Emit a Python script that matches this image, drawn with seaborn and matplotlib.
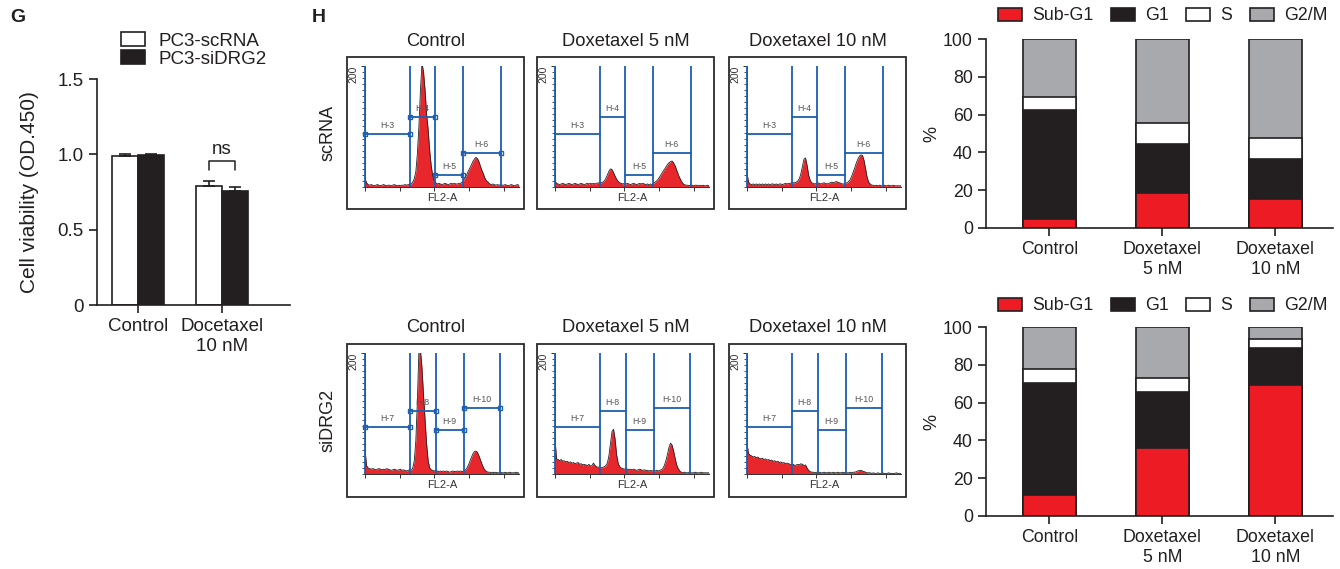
import numpy as np
import pandas as pd
import matplotlib
matplotlib.use("Agg")
import matplotlib.pyplot as plt
from matplotlib.patches import Rectangle, Patch
from matplotlib.ticker import MultipleLocator
import seaborn as sns

# ---------------- data ----------------
# Panel G: cell viability
g_groups = ["Control", "Docetaxel\n10 nM"]
g_lines = ["PC3-scRNA", "PC3-siDRG2"]
g_scrna = [0.99, 0.79]
g_sidrg2 = [0.995, 0.755]
g_err_scrna = [0.01, 0.035]
g_err_sidrg2 = [0.01, 0.03]

# Panel H: flow cytometry histograms (FL2-A channel grid 0..1000)
h_conditions = ["Control", "Doxetaxel 5 nM", "Doxetaxel 10 nM"]
h_rows = ["scRNA", "siDRG2"]
fl2_channel = np.arange(0, 1001, 10)

hist_scrna_ctrl = [
    14, 7, 4, 3, 4, 3, 2, 3, 4, 3,
    2, 3, 4, 3, 2, 3, 3, 2, 3, 4,
    3, 2, 3, 2, 3, 3, 4, 3, 4, 4,
    5, 8, 14, 25, 55, 100, 160, 205, 190, 160,
    120, 95, 60, 35, 18, 10, 7, 5, 6, 5,
    4, 5, 6, 5, 4, 5, 6, 5, 6, 5,
    5, 6, 6, 8, 11, 15, 20, 26, 31, 36,
    42, 46, 49, 47, 42, 34, 27, 21, 14, 10,
    8, 5, 4, 5, 4, 3, 4, 3, 4, 3,
    3, 4, 3, 2, 3, 4, 3, 2, 3, 4, 3]
hist_scrna_5nm = [
    10, 6, 5, 4, 5, 6, 5, 4, 5, 6,
    5, 4, 5, 6, 5, 4, 5, 6, 5, 4,
    5, 6, 5, 6, 5, 6, 5, 6, 7, 6,
    7, 8, 10, 14, 20, 26, 30, 29, 24, 18,
    13, 9, 7, 6, 5, 6, 5, 6, 5, 4,
    5, 6, 5, 4, 5, 6, 5, 6, 5, 4,
    5, 4, 5, 4, 6, 8, 10, 13, 17, 21,
    25, 29, 33, 37, 40, 42, 43, 40, 35, 28,
    21, 15, 10, 6, 4, 3, 3, 2, 3, 3,
    2, 3, 3, 2, 3, 2, 3, 2, 2, 3, 2]
hist_scrna_10nm = [
    23, 8, 5, 4, 5, 4, 5, 4, 5, 4,
    5, 4, 5, 4, 5, 4, 5, 5, 4, 5,
    4, 5, 5, 4, 5, 6, 5, 6, 6, 7,
    7, 7, 8, 10, 14, 22, 34, 46, 48, 36,
    20, 11, 7, 6, 5, 6, 7, 6, 5, 6,
    7, 6, 5, 6, 7, 8, 7, 8, 9, 8,
    7, 6, 5, 5, 6, 7, 9, 12, 18, 25,
    32, 40, 46, 51, 53, 52, 44, 30, 16, 8,
    5, 3, 3, 2, 3, 2, 3, 2, 2, 3,
    2, 2, 3, 2, 2, 3, 2, 2, 2, 2, 2]
hist_sidrg2_ctrl = [
    41, 14, 10, 9, 8, 9, 8, 7, 8, 9,
    8, 7, 8, 7, 9, 8, 7, 6, 7, 8,
    7, 6, 7, 8, 6, 7, 6, 5, 6, 7,
    6, 10, 22, 55, 120, 205, 205, 175, 130, 90,
    50, 22, 10, 7, 6, 5, 6, 5, 4, 5,
    4, 5, 4, 5, 4, 3, 4, 5, 4, 4,
    5, 4, 5, 4, 5, 6, 9, 14, 20, 27,
    33, 37, 38, 36, 30, 23, 16, 10, 6, 4,
    3, 3, 2, 3, 2, 3, 2, 2, 3, 2,
    2, 3, 2, 2, 3, 2, 2, 2, 3, 2, 2]
hist_sidrg2_5nm = [
    58, 25, 24, 22, 24, 21, 22, 20, 21, 19,
    20, 18, 19, 17, 18, 19, 16, 17, 15, 16,
    15, 14, 16, 13, 14, 18, 14, 12, 11, 12,
    10, 11, 12, 14, 18, 30, 50, 70, 74, 58,
    32, 18, 12, 10, 9, 8, 9, 8, 7, 8,
    7, 8, 7, 6, 7, 8, 7, 6, 7, 6,
    6, 5, 6, 5, 6, 5, 6, 5, 6, 7,
    9, 14, 22, 32, 44, 51, 48, 38, 26, 15,
    9, 5, 3, 2, 3, 2, 2, 3, 2, 2,
    2, 3, 2, 2, 2, 3, 2, 2, 2, 2, 2]
hist_sidrg2_10nm = [
    50, 34, 31, 30, 28, 29, 27, 28, 26, 25,
    26, 24, 25, 23, 24, 22, 23, 21, 22, 20,
    21, 19, 20, 18, 19, 17, 18, 17, 16, 15,
    16, 14, 15, 16, 15, 17, 16, 14, 15, 10,
    6, 4, 3, 3, 2, 3, 2, 3, 2, 2,
    3, 2, 2, 3, 2, 2, 3, 2, 2, 3,
    2, 2, 3, 2, 3, 2, 2, 3, 2, 3,
    3, 4, 5, 6, 6, 5, 4, 3, 2, 2,
    2, 1, 2, 1, 1, 2, 1, 1, 2, 1,
    1, 1, 2, 1, 1, 1, 1, 2, 1, 1, 1]

gate_bounds_scrna = [0, 293, 455, 636, 880]
gate_heights_scrna = [88, 116, 20, 56]
gate_names_scrna = ["H-3", "H-4", "H-5", "H-6"]
gate_bounds_sidrg2 = [0, 290, 458, 641, 876]
gate_heights_sidrg2 = [78, 104, 73, 109]
gate_names_sidrg2 = ["H-7", "H-8", "H-9", "H-10"]

# Panel H right: cell cycle distribution (%)
phases = ["Sub-G1", "G1", "S", "G2/M"]
bar_conditions = ["Control", "Doxetaxel\n5 nM", "Doxetaxel\n10 nM"]
scrna_subg1 = [5.0, 18.7, 15.2]
scrna_g1 = [57.5, 25.6, 21.5]
scrna_s = [6.8, 11.3, 10.7]
scrna_g2m = [30.7, 44.4, 52.6]
sidrg2_subg1 = [11.1, 35.9, 69.4]
sidrg2_g1 = [59.3, 29.6, 19.5]
sidrg2_s = [7.2, 7.4, 4.8]
sidrg2_g2m = [22.4, 27.1, 6.3]

# ---------------- style ----------------
sns.set_style("ticks")
plt.rcParams["font.family"] = ["Liberation Sans", "DejaVu Sans"]
INK = "#231f20"
RED = "#ed1c24"
GRAY = "#a7a9ac"
BLUE = "#1d5fb0"
HRED = "#e8272d"
phase_colors = [RED, INK, "white", GRAY]
plt.rcParams["text.color"] = INK

W, H = 1340, 569
fig = plt.figure(figsize=(W / 100, H / 100), dpi=100)


def ax_px(l, t, r, b):
    return fig.add_axes([l / W, 1 - b / H, (r - l) / W, (b - t) / H])


def style_axes(ax, size, lw=1.2, length=6):
    for s in ["top", "right"]:
        ax.spines[s].set_visible(False)
    for s in ["left", "bottom"]:
        ax.spines[s].set_linewidth(lw)
        ax.spines[s].set_color(INK)
    ax.tick_params(axis="both", direction="out", length=length, width=lw,
                   labelsize=size, colors=INK, pad=3.5)


# ---------------- Panel G ----------------
GF = 13.5
fig.text(10 / W, 1 - 18 / H, "G", fontsize=14, fontweight="bold", va="center", ha="left")
axg = ax_px(97, 79, 290, 305)
df_g = pd.DataFrame({
    "group": g_groups * 2,
    "line": [g_lines[0]] * len(g_groups) + [g_lines[1]] * len(g_groups),
    "value": g_scrna + g_sidrg2,
})
sns.barplot(data=df_g, x="group", y="value", hue="line", order=g_groups,
            hue_order=g_lines, palette=["white", INK], saturation=1,
            edgecolor=INK, linewidth=1.2, width=0.62, errorbar=None,
            legend=False, ax=axg)
bar_conts = list(axg.containers[:2])
for cont, errs in zip(bar_conts, [g_err_scrna, g_err_sidrg2]):
    xs = [p.get_x() + p.get_width() / 2 for p in cont]
    ys = [p.get_height() for p in cont]
    axg.errorbar(xs, ys, yerr=[np.zeros(len(errs)), errs], fmt="none",
                 ecolor=INK, elinewidth=1.2, capsize=4.5, capthick=1.2, zorder=1)
# ns bracket
p0 = bar_conts[0][1]
p1 = bar_conts[1][1]
x0 = p0.get_x() + p0.get_width() / 2
x1 = p1.get_x() + p1.get_width() / 2
axg.plot([x0, x0, x1, x1], [0.895, 0.955, 0.955, 0.895], color=INK, lw=1.1)
axg.text((x0 + x1) / 2, 1.035, "ns", ha="center", va="center", fontsize=GF)
axg.set_xlim(-0.49, 1.81)
axg.set_ylim(0, 1.5)
axg.set_yticks([0, 0.5, 1.0, 1.5])
axg.set_yticklabels(["0", "0.5", "1.0", "1.5"])
axg.set_xlabel("")
axg.set_ylabel("")
style_axes(axg, GF, length=6)
fig.text(30 / W, 1 - 192 / H, "Cell viability (OD.450)", rotation=90,
         ha="center", va="center", fontsize=15)
fig.legend(handles=[Patch(fc="white", ec=INK, lw=1.2), Patch(fc=INK, ec=INK, lw=1.2)],
           labels=g_lines, loc="center left", bbox_to_anchor=(121 / W, 1 - 50 / H),
           frameon=False, fontsize=GF, handlelength=1.28, handleheight=0.7,
           handletextpad=0.7, labelspacing=0.05, borderpad=0, borderaxespad=0)

# ---------------- Panel H histograms ----------------
fig.text(312 / W, 1 - 18 / H, "H", fontsize=14, fontweight="bold", va="center", ha="left")
box_cols = [(347, 524), (537, 714), (729, 906)]
box_rows = [(57, 209), (344, 497)]
hist_sets = [[hist_scrna_ctrl, hist_scrna_5nm, hist_scrna_10nm],
             [hist_sidrg2_ctrl, hist_sidrg2_5nm, hist_sidrg2_10nm]]
gate_sets = [(gate_bounds_scrna, gate_heights_scrna, gate_names_scrna),
             (gate_bounds_sidrg2, gate_heights_sidrg2, gate_names_sidrg2)]

for ri, (bt, bb) in enumerate(box_rows):
    fig.text(328 / W, 1 - (bt + bb) / 2 / H, h_rows[ri], rotation=90,
             ha="center", va="center", fontsize=13)
    bounds, heights, names = gate_sets[ri]
    for ci, (bl, br) in enumerate(box_cols):
        fig.text((bl + br) / 2 / W, 1 - (bt - 16) / H, h_conditions[ci],
                 ha="center", va="center", fontsize=13.2)
        fig.add_artist(Rectangle((bl / W, 1 - bb / H), (br - bl) / W, (bb - bt) / H,
                                 transform=fig.transFigure, fill=False,
                                 lw=1.3, ec="#2b2b2b"))
        ax = ax_px(bl + 18, bt + 9, bl + 172, bt + 130)
        vals = np.array(hist_sets[ri][ci], dtype=float)
        ax.fill_between(fl2_channel, vals, color=HRED, lw=0)
        sns.lineplot(x=fl2_channel, y=vals, color="#222222", lw=0.6, ax=ax)
        ax.vlines(bounds, 0, 200, color=BLUE, lw=1.3, clip_on=False, zorder=4)
        for gi in range(len(heights)):
            xa, xb = bounds[gi], bounds[gi + 1]
            ax.plot([xa, xb], [heights[gi], heights[gi]], color=BLUE, lw=1.3,
                    zorder=4, clip_on=False)
            if ci == 0:
                ax.plot([xa, xb], [heights[gi], heights[gi]], "s", mfc="none",
                        mec=BLUE, ms=3.5, mew=1.0, zorder=5, clip_on=False)
            ax.text((xa + xb) / 2, heights[gi] + 14, names[gi], ha="center",
                    va="center", fontsize=6.3, color="#555555", zorder=6)
        ax.set_xlim(0, 1000)
        ax.set_ylim(0, 200)
        for s in ["top", "right"]:
            ax.spines[s].set_visible(False)
        for s in ["left", "bottom"]:
            ax.spines[s].set_linewidth(0.7)
            ax.spines[s].set_color("#333333")
        ax.set_xticks([0, 225, 450, 675, 900])
        ax.set_xticklabels([])
        ax.set_yticks([200])
        ax.set_yticklabels(["200"], rotation=90, va="top", fontsize=7.5)
        ax.yaxis.set_minor_locator(MultipleLocator(10))
        ax.tick_params(axis="both", which="major", direction="out", length=3,
                       width=0.7, colors="#333333", pad=1.5)
        ax.tick_params(axis="y", which="minor", direction="out", length=2,
                       width=0.6, colors="#333333")
        ax.set_xlabel("")
        ax.set_ylabel("")
        fig.text((bl + 18 + bl + 172) / 2 / W, 1 - (bt + 141) / H, "FL2-A",
                 ha="center", va="center", fontsize=8, color="#333333")

# ---------------- Panel H stacked bars ----------------
SF = 12.8
stack_sets = [[scrna_subg1, scrna_g1, scrna_s, scrna_g2m],
              [sidrg2_subg1, sidrg2_g1, sidrg2_s, sidrg2_g2m]]
stack_pos = [(986, 39, 1333, 228), (986, 327, 1333, 516)]
legend_y = [16, 306]
for si, layers in enumerate(stack_sets):
    l, t, r, b = stack_pos[si]
    ax = ax_px(l, t, r, b)
    cums = np.cumsum(np.array(layers, dtype=float), axis=0)
    for i in reversed(range(len(phases))):
        df_s = pd.DataFrame({"cond": bar_conditions, "v": cums[i]})
        sns.barplot(data=df_s, x="cond", y="v", order=bar_conditions,
                    color=phase_colors[i], saturation=1, edgecolor=INK,
                    linewidth=1.2, width=0.47, errorbar=None, ax=ax)
    ax.set_xlim(-0.56, 2.51)
    ax.set_ylim(0, 100)
    ax.set_yticks([0, 20, 40, 60, 80, 100])
    ax.set_xlabel("")
    ax.set_ylabel("")
    style_axes(ax, SF, length=6)
    fig.text(932 / W, 1 - (t + b) / 2 / H, "%", rotation=90, ha="center",
             va="center", fontsize=13)
    handles = [Patch(fc=c, ec=INK, lw=1.2) for c in phase_colors]
    fig.legend(handles=handles, labels=phases, loc="center left", ncol=4,
               bbox_to_anchor=(998 / W, 1 - legend_y[si] / H), frameon=False,
               fontsize=SF, handlelength=1.35, handleheight=0.73,
               handletextpad=0.56, columnspacing=1.0, borderpad=0, borderaxespad=0)

fig.savefig("out.png", dpi=100)
